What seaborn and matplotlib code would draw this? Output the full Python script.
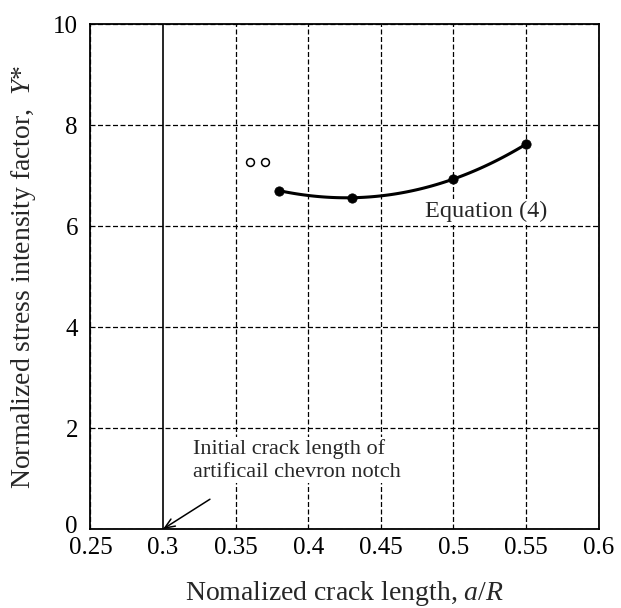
import matplotlib
matplotlib.use("Agg")
import matplotlib.pyplot as plt
import matplotlib.transforms as mtransforms
import seaborn as sns
import pandas as pd

# Measured points (filled) and early data (open)
crack_ratio = [0.38, 0.43, 0.50, 0.55]
y_star = [6.70, 6.56, 6.93, 7.62]
early_ratio = [0.36, 0.37]
early_y = [7.26, 7.26]

x_ticks = [0.25, 0.3, 0.35, 0.4, 0.45, 0.5, 0.55, 0.6]
x_tick_labels = ["0.25", "0.3", "0.35", "0.4", "0.45", "0.5", "0.55", "0.6"]
y_ticks = [0, 2, 4, 6, 8, 10]

sns.set_theme(style="white")
plt.rcParams["font.family"] = ["Liberation Serif", "DejaVu Serif"]
plt.rcParams["mathtext.fontset"] = "custom"
plt.rcParams["mathtext.it"] = "Liberation Serif:italic"
plt.rcParams["mathtext.rm"] = "Liberation Serif"

fit_df = pd.DataFrame({"ratio": crack_ratio, "y": y_star})
early_df = pd.DataFrame({"ratio": early_ratio, "y": early_y})

fig = plt.figure(figsize=(6.21, 6.08), dpi=100)
ax = fig.add_axes([0.1457, 0.1299, 0.8181, 0.8306])

# fitted curve through the measured points
sns.regplot(data=fit_df, x="ratio", y="y", order=3, ci=None, scatter=False,
            truncate=True, line_kws=dict(color="black", lw=2.2), ax=ax)
sns.scatterplot(data=fit_df, x="ratio", y="y", color="black", s=45,
                edgecolor="black", zorder=5, ax=ax)
sns.scatterplot(data=early_df, x="ratio", y="y", facecolor="white",
                edgecolor="black", linewidth=1.1, s=32, zorder=5, ax=ax)

ax.set_xlim(0.25, 0.6)
ax.set_ylim(0, 10)
ax.set_xticks(x_ticks)
ax.set_xticklabels(x_tick_labels)
ax.set_yticks(y_ticks)
ax.grid(True, color="black", linestyle=(0, (4, 2)), linewidth=0.9)
ax.set_axisbelow(True)
for gl in ax.get_xgridlines():
    if abs(gl.get_xdata()[0] - 0.3) < 1e-9:
        gl.set_linestyle("-")
        gl.set_linewidth(1.2)
for s in ax.spines.values():
    s.set_color("black")
    s.set_linewidth(1.3)
ax.tick_params(axis="x", labelsize=18, length=0, pad=6, colors="black")
ax.tick_params(axis="y", labelsize=18, length=0, pad=9, colors="black")

# lift the "0" on the y axis slightly so it sits above the first x label
zero_label = ax.get_yticklabels()[0]
zero_label.set_transform(zero_label.get_transform() +
                         mtransforms.ScaledTranslation(0, 3 / 72, fig.dpi_scale_trans))

ax.set_xlabel(r"Nomalized crack length, $a$/$R$", fontsize=20, labelpad=14)
ax.set_ylabel(r"Normalized stress intensity factor,  $Y$*", fontsize=20)
ax.yaxis.set_label_coords(-0.104, 0.5)

ax.text(0.4803, 6.28, "Equation (4)", fontsize=17.5, va="center", ha="left",
        bbox=dict(facecolor="white", edgecolor="none", pad=2), zorder=4)

ax.text(0.3206, 1.36, "Initial crack length of\nartificail chevron notch",
        fontsize=16, ha="left", va="center", linespacing=1.3,
        bbox=dict(facecolor="white", edgecolor="none", pad=1), zorder=4)
ax.annotate("", xy=(0.3, 0), xytext=(0.3323, 0.59),
            arrowprops=dict(arrowstyle="->,head_length=0.6,head_width=0.25",
                            color="black", lw=1.1, shrinkA=0, shrinkB=0),
            zorder=4)

fig.savefig("out.png", dpi=100)
